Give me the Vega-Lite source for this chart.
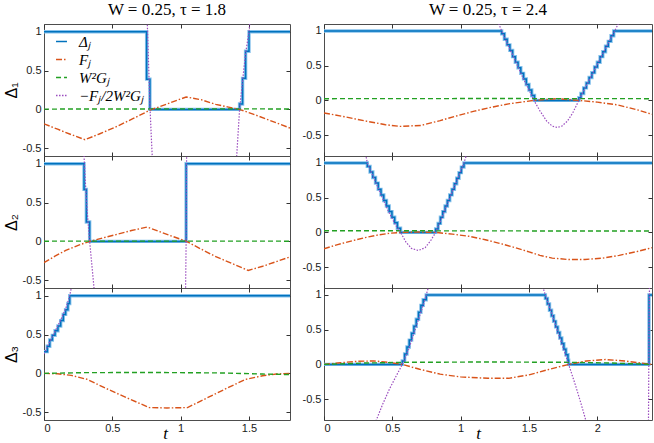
{
  "$schema": "https://vega.github.io/schema/vega-lite/v6.json",
  "padding": {"left": 2, "top": 0, "right": 0, "bottom": 0},
  "background": "white",
  "data": {
    "values": [
      {"p":"L1","s":"D","t":0,"v":1},{"p":"L1","s":"D","t":0.751,"v":0.39},{"p":"L1","s":"D","t":0.775,"v":0},{"p":"L1","s":"D","t":1.431,"v":0.07},{"p":"L1","s":"D","t":1.453,"v":0.4},{"p":"L1","s":"D","t":1.475,"v":0.75},{"p":"L1","s":"D","t":1.5,"v":1},{"p":"L1","s":"D","t":1.8,"v":1},
      {"p":"L1","s":"F","t":0,"v":-0.185},{"p":"L1","s":"F","t":0.1,"v":-0.255},{"p":"L1","s":"F","t":0.2,"v":-0.325},{"p":"L1","s":"F","t":0.3,"v":-0.39},{"p":"L1","s":"F","t":0.4,"v":-0.32},{"p":"L1","s":"F","t":0.52,"v":-0.23},{"p":"L1","s":"F","t":0.65,"v":-0.12},{"p":"L1","s":"F","t":0.775,"v":-0.01},{"p":"L1","s":"F","t":0.9,"v":0.07},{"p":"L1","s":"F","t":1.04,"v":0.16},{"p":"L1","s":"F","t":1.15,"v":0.125},{"p":"L1","s":"F","t":1.256,"v":0.065},{"p":"L1","s":"F","t":1.35,"v":0.03},{"p":"L1","s":"F","t":1.44,"v":-0.005},{"p":"L1","s":"F","t":1.53,"v":-0.06},{"p":"L1","s":"F","t":1.62,"v":-0.12},{"p":"L1","s":"F","t":1.71,"v":-0.18},{"p":"L1","s":"F","t":1.8,"v":-0.24},
      {"p":"L1","s":"G","t":0,"v":0.004},{"p":"L1","s":"G","t":0.6,"v":0.006},{"p":"L1","s":"G","t":1.2,"v":0.007},{"p":"L1","s":"G","t":1.8,"v":0.006},
      {"p":"L1","s":"P","g":1,"t":0.75,"v":1.4},{"p":"L1","s":"P","g":1,"t":0.756,"v":1.1},{"p":"L1","s":"P","g":1,"t":0.765,"v":0.6},{"p":"L1","s":"P","g":1,"t":0.775,"v":0.05},{"p":"L1","s":"P","g":1,"t":0.785,"v":-0.35},{"p":"L1","s":"P","g":1,"t":0.792,"v":-0.6},{"p":"L1","s":"P","g":1,"t":0.8,"v":-0.9},
      {"p":"L1","s":"P","g":2,"t":1.4,"v":-0.8},{"p":"L1","s":"P","g":2,"t":1.41,"v":-0.6},{"p":"L1","s":"P","g":2,"t":1.431,"v":0},{"p":"L1","s":"P","g":2,"t":1.455,"v":0.4},{"p":"L1","s":"P","g":2,"t":1.475,"v":0.72},{"p":"L1","s":"P","g":2,"t":1.5,"v":1.0},{"p":"L1","s":"P","g":2,"t":1.505,"v":1.1},{"p":"L1","s":"P","g":2,"t":1.51,"v":1.25},

      {"p":"L2","s":"D","t":0,"v":1},{"p":"L2","s":"D","t":0.293,"v":0.67},{"p":"L2","s":"D","t":0.31,"v":0.25},{"p":"L2","s":"D","t":0.334,"v":0},{"p":"L2","s":"D","t":1.04,"v":1},{"p":"L2","s":"D","t":1.8,"v":1},
      {"p":"L2","s":"F","t":0,"v":-0.274},{"p":"L2","s":"F","t":0.08,"v":-0.19},{"p":"L2","s":"F","t":0.159,"v":-0.116},{"p":"L2","s":"F","t":0.25,"v":-0.05},{"p":"L2","s":"F","t":0.334,"v":0},{"p":"L2","s":"F","t":0.43,"v":0.045},{"p":"L2","s":"F","t":0.524,"v":0.086},{"p":"L2","s":"F","t":0.64,"v":0.14},{"p":"L2","s":"F","t":0.756,"v":0.185},{"p":"L2","s":"F","t":0.9,"v":0.09},{"p":"L2","s":"F","t":1.044,"v":0},{"p":"L2","s":"F","t":1.15,"v":-0.1},{"p":"L2","s":"F","t":1.25,"v":-0.19},{"p":"L2","s":"F","t":1.37,"v":-0.28},{"p":"L2","s":"F","t":1.494,"v":-0.374},{"p":"L2","s":"F","t":1.6,"v":-0.32},{"p":"L2","s":"F","t":1.7,"v":-0.26},{"p":"L2","s":"F","t":1.8,"v":-0.2},
      {"p":"L2","s":"G","t":0,"v":0.003},{"p":"L2","s":"G","t":0.9,"v":0.004},{"p":"L2","s":"G","t":1.8,"v":0.003},
      {"p":"L2","s":"P","g":1,"t":0.288,"v":1.3},{"p":"L2","s":"P","g":1,"t":0.293,"v":1.1},{"p":"L2","s":"P","g":1,"t":0.3,"v":0.85},{"p":"L2","s":"P","g":1,"t":0.31,"v":0.55},{"p":"L2","s":"P","g":1,"t":0.322,"v":0.25},{"p":"L2","s":"P","g":1,"t":0.334,"v":0},{"p":"L2","s":"P","g":1,"t":0.35,"v":-0.3},{"p":"L2","s":"P","g":1,"t":0.366,"v":-0.6},{"p":"L2","s":"P","g":1,"t":0.372,"v":-0.75},
      {"p":"L2","s":"P","g":2,"t":1.035,"v":-0.75},{"p":"L2","s":"P","g":2,"t":1.04,"v":0},{"p":"L2","s":"P","g":2,"t":1.043,"v":1.0},{"p":"L2","s":"P","g":2,"t":1.045,"v":1.3},

      {"p":"L3","s":"D","t":0,"v":0.28},{"p":"L3","s":"D","t":0.024,"v":0.35},{"p":"L3","s":"D","t":0.042,"v":0.43},{"p":"L3","s":"D","t":0.061,"v":0.49},{"p":"L3","s":"D","t":0.081,"v":0.55},{"p":"L3","s":"D","t":0.102,"v":0.61},{"p":"L3","s":"D","t":0.122,"v":0.68},{"p":"L3","s":"D","t":0.141,"v":0.76},{"p":"L3","s":"D","t":0.158,"v":0.82},{"p":"L3","s":"D","t":0.175,"v":0.9},{"p":"L3","s":"D","t":0.188,"v":1},{"p":"L3","s":"D","t":1.8,"v":1},
      {"p":"L3","s":"F","t":0,"v":0},{"p":"L3","s":"F","t":0.1,"v":-0.005},{"p":"L3","s":"F","t":0.2,"v":-0.025},{"p":"L3","s":"F","t":0.317,"v":-0.077},{"p":"L3","s":"F","t":0.45,"v":-0.19},{"p":"L3","s":"F","t":0.6,"v":-0.31},{"p":"L3","s":"F","t":0.77,"v":-0.44},{"p":"L3","s":"F","t":0.9,"v":-0.445},{"p":"L3","s":"F","t":1.05,"v":-0.44},{"p":"L3","s":"F","t":1.2,"v":-0.31},{"p":"L3","s":"F","t":1.35,"v":-0.18},{"p":"L3","s":"F","t":1.475,"v":-0.077},{"p":"L3","s":"F","t":1.6,"v":-0.03},{"p":"L3","s":"F","t":1.7,"v":-0.008},{"p":"L3","s":"F","t":1.8,"v":0},
      {"p":"L3","s":"G","t":0,"v":0},{"p":"L3","s":"G","t":0.3,"v":0.01},{"p":"L3","s":"G","t":0.8,"v":0.012},{"p":"L3","s":"G","t":1.3,"v":0.006},{"p":"L3","s":"G","t":1.6,"v":-0.008},{"p":"L3","s":"G","t":1.8,"v":-0.015},
      {"p":"L3","s":"P","g":1,"t":0,"v":0.25},{"p":"L3","s":"P","g":1,"t":0.04,"v":0.4},{"p":"L3","s":"P","g":1,"t":0.08,"v":0.54},{"p":"L3","s":"P","g":1,"t":0.12,"v":0.68},{"p":"L3","s":"P","g":1,"t":0.16,"v":0.84},{"p":"L3","s":"P","g":1,"t":0.185,"v":0.98},{"p":"L3","s":"P","g":1,"t":0.2,"v":1.1},{"p":"L3","s":"P","g":1,"t":0.22,"v":1.25},

      {"p":"R1","s":"D","t":0,"v":1},{"p":"R1","s":"D","t":1.3,"v":0.96},{"p":"R1","s":"D","t":1.32,"v":0.88},{"p":"R1","s":"D","t":1.34,"v":0.8},{"p":"R1","s":"D","t":1.36,"v":0.72},{"p":"R1","s":"D","t":1.38,"v":0.63},{"p":"R1","s":"D","t":1.4,"v":0.55},{"p":"R1","s":"D","t":1.42,"v":0.47},{"p":"R1","s":"D","t":1.44,"v":0.39},{"p":"R1","s":"D","t":1.46,"v":0.31},{"p":"R1","s":"D","t":1.48,"v":0.23},{"p":"R1","s":"D","t":1.5,"v":0.15},{"p":"R1","s":"D","t":1.52,"v":0.07},{"p":"R1","s":"D","t":1.54,"v":0},{"p":"R1","s":"D","t":1.865,"v":0.04},{"p":"R1","s":"D","t":1.88,"v":0.1},{"p":"R1","s":"D","t":1.9,"v":0.18},{"p":"R1","s":"D","t":1.92,"v":0.25},{"p":"R1","s":"D","t":1.94,"v":0.33},{"p":"R1","s":"D","t":1.96,"v":0.4},{"p":"R1","s":"D","t":1.98,"v":0.48},{"p":"R1","s":"D","t":2.0,"v":0.55},{"p":"R1","s":"D","t":2.02,"v":0.63},{"p":"R1","s":"D","t":2.04,"v":0.7},{"p":"R1","s":"D","t":2.06,"v":0.78},{"p":"R1","s":"D","t":2.08,"v":0.85},{"p":"R1","s":"D","t":2.1,"v":0.93},{"p":"R1","s":"D","t":2.12,"v":1},{"p":"R1","s":"D","t":2.4,"v":1},
      {"p":"R1","s":"F","t":0,"v":-0.18},{"p":"R1","s":"F","t":0.15,"v":-0.235},{"p":"R1","s":"F","t":0.3,"v":-0.295},{"p":"R1","s":"F","t":0.45,"v":-0.35},{"p":"R1","s":"F","t":0.56,"v":-0.374},{"p":"R1","s":"F","t":0.71,"v":-0.36},{"p":"R1","s":"F","t":0.85,"v":-0.29},{"p":"R1","s":"F","t":0.975,"v":-0.22},{"p":"R1","s":"F","t":1.1,"v":-0.155},{"p":"R1","s":"F","t":1.22,"v":-0.1},{"p":"R1","s":"F","t":1.35,"v":-0.05},{"p":"R1","s":"F","t":1.46,"v":-0.02},{"p":"R1","s":"F","t":1.536,"v":0},{"p":"R1","s":"F","t":1.7,"v":0.025},{"p":"R1","s":"F","t":1.865,"v":0},{"p":"R1","s":"F","t":2.0,"v":-0.025},{"p":"R1","s":"F","t":2.15,"v":-0.065},{"p":"R1","s":"F","t":2.3,"v":-0.14},{"p":"R1","s":"F","t":2.4,"v":-0.2},
      {"p":"R1","s":"G","t":0,"v":0.025},{"p":"R1","s":"G","t":1.2,"v":0.027},{"p":"R1","s":"G","t":2.4,"v":0.025},
      {"p":"R1","s":"P","g":1,"t":1.27,"v":1.15},{"p":"R1","s":"P","g":1,"t":1.3,"v":1.0},{"p":"R1","s":"P","g":1,"t":1.35,"v":0.78},{"p":"R1","s":"P","g":1,"t":1.4,"v":0.57},{"p":"R1","s":"P","g":1,"t":1.45,"v":0.35},{"p":"R1","s":"P","g":1,"t":1.5,"v":0.15},{"p":"R1","s":"P","g":1,"t":1.536,"v":0},{"p":"R1","s":"P","g":1,"t":1.58,"v":-0.15},{"p":"R1","s":"P","g":1,"t":1.63,"v":-0.3},{"p":"R1","s":"P","g":1,"t":1.67,"v":-0.37},{"p":"R1","s":"P","g":1,"t":1.707,"v":-0.39},{"p":"R1","s":"P","g":1,"t":1.74,"v":-0.37},{"p":"R1","s":"P","g":1,"t":1.78,"v":-0.3},{"p":"R1","s":"P","g":1,"t":1.82,"v":-0.18},{"p":"R1","s":"P","g":1,"t":1.865,"v":0},{"p":"R1","s":"P","g":1,"t":1.9,"v":0.14},{"p":"R1","s":"P","g":1,"t":1.95,"v":0.33},{"p":"R1","s":"P","g":1,"t":2.0,"v":0.52},{"p":"R1","s":"P","g":1,"t":2.05,"v":0.71},{"p":"R1","s":"P","g":1,"t":2.1,"v":0.9},{"p":"R1","s":"P","g":1,"t":2.13,"v":1.01},{"p":"R1","s":"P","g":1,"t":2.16,"v":1.13},

      {"p":"R2","s":"D","t":0,"v":1},{"p":"R2","s":"D","t":0.317,"v":0.95},{"p":"R2","s":"D","t":0.337,"v":0.87},{"p":"R2","s":"D","t":0.357,"v":0.79},{"p":"R2","s":"D","t":0.377,"v":0.71},{"p":"R2","s":"D","t":0.397,"v":0.62},{"p":"R2","s":"D","t":0.417,"v":0.54},{"p":"R2","s":"D","t":0.437,"v":0.46},{"p":"R2","s":"D","t":0.457,"v":0.38},{"p":"R2","s":"D","t":0.477,"v":0.3},{"p":"R2","s":"D","t":0.497,"v":0.22},{"p":"R2","s":"D","t":0.517,"v":0.14},{"p":"R2","s":"D","t":0.537,"v":0.06},{"p":"R2","s":"D","t":0.56,"v":0},{"p":"R2","s":"D","t":0.817,"v":0.05},{"p":"R2","s":"D","t":0.835,"v":0.13},{"p":"R2","s":"D","t":0.852,"v":0.22},{"p":"R2","s":"D","t":0.869,"v":0.3},{"p":"R2","s":"D","t":0.886,"v":0.38},{"p":"R2","s":"D","t":0.903,"v":0.46},{"p":"R2","s":"D","t":0.92,"v":0.54},{"p":"R2","s":"D","t":0.937,"v":0.62},{"p":"R2","s":"D","t":0.954,"v":0.7},{"p":"R2","s":"D","t":0.971,"v":0.78},{"p":"R2","s":"D","t":0.988,"v":0.86},{"p":"R2","s":"D","t":1.005,"v":0.94},{"p":"R2","s":"D","t":1.024,"v":1},{"p":"R2","s":"D","t":2.4,"v":1},
      {"p":"R2","s":"F","t":0,"v":-0.235},{"p":"R2","s":"F","t":0.1,"v":-0.175},{"p":"R2","s":"F","t":0.207,"v":-0.12},{"p":"R2","s":"F","t":0.3,"v":-0.075},{"p":"R2","s":"F","t":0.4,"v":-0.035},{"p":"R2","s":"F","t":0.48,"v":-0.012},{"p":"R2","s":"F","t":0.56,"v":0},{"p":"R2","s":"F","t":0.69,"v":0.005},{"p":"R2","s":"F","t":0.817,"v":0},{"p":"R2","s":"F","t":0.94,"v":-0.025},{"p":"R2","s":"F","t":1.06,"v":-0.055},{"p":"R2","s":"F","t":1.18,"v":-0.105},{"p":"R2","s":"F","t":1.3,"v":-0.165},{"p":"R2","s":"F","t":1.4,"v":-0.22},{"p":"R2","s":"F","t":1.5,"v":-0.28},{"p":"R2","s":"F","t":1.58,"v":-0.33},{"p":"R2","s":"F","t":1.67,"v":-0.37},{"p":"R2","s":"F","t":1.79,"v":-0.39},{"p":"R2","s":"F","t":1.91,"v":-0.39},{"p":"R2","s":"F","t":2.04,"v":-0.37},{"p":"R2","s":"F","t":2.16,"v":-0.33},{"p":"R2","s":"F","t":2.28,"v":-0.28},{"p":"R2","s":"F","t":2.4,"v":-0.22},
      {"p":"R2","s":"G","t":0,"v":0.025},{"p":"R2","s":"G","t":1.2,"v":0.022},{"p":"R2","s":"G","t":2.4,"v":0.02},
      {"p":"R2","s":"P","g":1,"t":0.3,"v":1.17},{"p":"R2","s":"P","g":1,"t":0.317,"v":1.0},{"p":"R2","s":"P","g":1,"t":0.37,"v":0.76},{"p":"R2","s":"P","g":1,"t":0.42,"v":0.53},{"p":"R2","s":"P","g":1,"t":0.47,"v":0.31},{"p":"R2","s":"P","g":1,"t":0.52,"v":0.12},{"p":"R2","s":"P","g":1,"t":0.56,"v":0},{"p":"R2","s":"P","g":1,"t":0.6,"v":-0.14},{"p":"R2","s":"P","g":1,"t":0.64,"v":-0.23},{"p":"R2","s":"P","g":1,"t":0.69,"v":-0.26},{"p":"R2","s":"P","g":1,"t":0.74,"v":-0.22},{"p":"R2","s":"P","g":1,"t":0.78,"v":-0.12},{"p":"R2","s":"P","g":1,"t":0.817,"v":0},{"p":"R2","s":"P","g":1,"t":0.86,"v":0.2},{"p":"R2","s":"P","g":1,"t":0.9,"v":0.4},{"p":"R2","s":"P","g":1,"t":0.95,"v":0.64},{"p":"R2","s":"P","g":1,"t":1.0,"v":0.88},{"p":"R2","s":"P","g":1,"t":1.024,"v":1.0},{"p":"R2","s":"P","g":1,"t":1.04,"v":1.1},{"p":"R2","s":"P","g":1,"t":1.05,"v":1.17},

      {"p":"R3","s":"D","t":0,"v":0},{"p":"R3","s":"D","t":0.573,"v":0.05},{"p":"R3","s":"D","t":0.59,"v":0.15},{"p":"R3","s":"D","t":0.607,"v":0.25},{"p":"R3","s":"D","t":0.624,"v":0.35},{"p":"R3","s":"D","t":0.641,"v":0.45},{"p":"R3","s":"D","t":0.658,"v":0.55},{"p":"R3","s":"D","t":0.675,"v":0.65},{"p":"R3","s":"D","t":0.692,"v":0.75},{"p":"R3","s":"D","t":0.709,"v":0.85},{"p":"R3","s":"D","t":0.726,"v":0.93},{"p":"R3","s":"D","t":0.748,"v":1},{"p":"R3","s":"D","t":1.62,"v":0.95},{"p":"R3","s":"D","t":1.635,"v":0.87},{"p":"R3","s":"D","t":1.65,"v":0.78},{"p":"R3","s":"D","t":1.665,"v":0.7},{"p":"R3","s":"D","t":1.68,"v":0.62},{"p":"R3","s":"D","t":1.695,"v":0.54},{"p":"R3","s":"D","t":1.71,"v":0.46},{"p":"R3","s":"D","t":1.725,"v":0.38},{"p":"R3","s":"D","t":1.74,"v":0.3},{"p":"R3","s":"D","t":1.755,"v":0.22},{"p":"R3","s":"D","t":1.77,"v":0.14},{"p":"R3","s":"D","t":1.785,"v":0.06},{"p":"R3","s":"D","t":1.79,"v":0},{"p":"R3","s":"D","t":2.378,"v":1},{"p":"R3","s":"D","t":2.4,"v":1},
      {"p":"R3","s":"F","t":0,"v":0},{"p":"R3","s":"F","t":0.12,"v":0.025},{"p":"R3","s":"F","t":0.25,"v":0.045},{"p":"R3","s":"F","t":0.366,"v":0.05},{"p":"R3","s":"F","t":0.47,"v":0.03},{"p":"R3","s":"F","t":0.573,"v":0},{"p":"R3","s":"F","t":0.7,"v":-0.07},{"p":"R3","s":"F","t":0.85,"v":-0.14},{"p":"R3","s":"F","t":1.0,"v":-0.18},{"p":"R3","s":"F","t":1.2,"v":-0.2},{"p":"R3","s":"F","t":1.35,"v":-0.2},{"p":"R3","s":"F","t":1.5,"v":-0.15},{"p":"R3","s":"F","t":1.65,"v":-0.07},{"p":"R3","s":"F","t":1.79,"v":0},{"p":"R3","s":"F","t":1.92,"v":0.05},{"p":"R3","s":"F","t":2.06,"v":0.07},{"p":"R3","s":"F","t":2.2,"v":0.05},{"p":"R3","s":"F","t":2.3,"v":0.025},{"p":"R3","s":"F","t":2.4,"v":0},
      {"p":"R3","s":"G","t":0,"v":0},{"p":"R3","s":"G","t":0.3,"v":0.02},{"p":"R3","s":"G","t":0.6,"v":0.03},{"p":"R3","s":"G","t":1.2,"v":0.035},{"p":"R3","s":"G","t":1.8,"v":0.03},{"p":"R3","s":"G","t":2.1,"v":0.02},{"p":"R3","s":"G","t":2.4,"v":0},
      {"p":"R3","s":"P","g":1,"t":0.37,"v":-0.9},{"p":"R3","s":"P","g":1,"t":0.383,"v":-0.8},{"p":"R3","s":"P","g":1,"t":0.43,"v":-0.57},{"p":"R3","s":"P","g":1,"t":0.48,"v":-0.35},{"p":"R3","s":"P","g":1,"t":0.53,"v":-0.16},{"p":"R3","s":"P","g":1,"t":0.573,"v":0},{"p":"R3","s":"P","g":1,"t":0.62,"v":0.22},{"p":"R3","s":"P","g":1,"t":0.66,"v":0.46},{"p":"R3","s":"P","g":1,"t":0.7,"v":0.7},{"p":"R3","s":"P","g":1,"t":0.73,"v":0.88},{"p":"R3","s":"P","g":1,"t":0.748,"v":1.0},{"p":"R3","s":"P","g":1,"t":0.765,"v":1.12},
      {"p":"R3","s":"P","g":2,"t":1.6,"v":1.12},{"p":"R3","s":"P","g":2,"t":1.62,"v":1.0},{"p":"R3","s":"P","g":2,"t":1.66,"v":0.77},{"p":"R3","s":"P","g":2,"t":1.7,"v":0.53},{"p":"R3","s":"P","g":2,"t":1.74,"v":0.3},{"p":"R3","s":"P","g":2,"t":1.79,"v":0},{"p":"R3","s":"P","g":2,"t":1.84,"v":-0.3},{"p":"R3","s":"P","g":2,"t":1.88,"v":-0.56},{"p":"R3","s":"P","g":2,"t":1.915,"v":-0.8},{"p":"R3","s":"P","g":2,"t":1.93,"v":-0.9},
      {"p":"R3","s":"P","g":3,"t":2.374,"v":-0.9},{"p":"R3","s":"P","g":3,"t":2.378,"v":0.5},{"p":"R3","s":"P","g":3,"t":2.382,"v":1.2}
    ]
  },
  "columns": 2,
  "spacing": {"row": 0, "column": 34},
  "bounds": "flush",
  "align": "each",
  "resolve": {"scale": {"color": "independent", "strokeDash": "independent"}},
  "concat": [
    {
      "width": 246, "height": 132,
      "title": {"text": "W = 0.25, τ = 1.8"},
      "transform": [{"filter": "datum.p == 'L1'"}],
      "resolve": {"axis": {"x": "independent", "y": "independent"}},
      "layer": [
        {"transform": [{"filter": "datum.s == 'D'"}],
         "mark": {"type": "line", "interpolate": "step-after", "color": "#86c1ec", "strokeWidth": 3.4, "clip": true},
         "encoding": {
           "x": {"field": "t", "type": "quantitative", "scale": {"domain": [0, 1.8]}, "axis": {"orient": "bottom", "values": [0, 0.5, 1, 1.5], "labels": false, "title": null}},
           "y": {"field": "v", "type": "quantitative", "scale": {"domain": [-0.6, 1.1]}, "axis": {"orient": "left", "values": [-0.5, 0, 0.5, 1], "title": "Δ₁"}}}},
        {"transform": [{"filter": "datum.s == 'D'"}],
         "mark": {"type": "line", "interpolate": "step-after", "strokeWidth": 1.5, "clip": true},
         "encoding": {
           "x": {"field": "t", "type": "quantitative", "scale": {"domain": [0, 1.8]}, "axis": {"orient": "top", "values": [0, 0.5, 1, 1.5], "labels": false, "title": null}},
           "y": {"field": "v", "type": "quantitative", "scale": {"domain": [-0.6, 1.1]}, "axis": {"orient": "right", "values": [-0.5, 0, 0.5, 1], "labels": false, "title": null}},
           "color": {"field": "s", "type": "nominal", "scale": {"domain": ["D", "F", "G", "P"], "range": ["#0072BD", "#D95319", "#22a022", "#9b4dbf"]}, "legend": {"title": null, "labelExpr": "datum.label == 'D' ? 'Δⱼ' : datum.label == 'F' ? 'Fⱼ' : datum.label == 'G' ? 'W²Gⱼ' : '−Fⱼ/2W²Gⱼ'"}},
           "strokeDash": {"field": "s", "type": "nominal", "scale": {"domain": ["D", "F", "G", "P"], "range": [[1, 0], [6, 2, 1.5, 2], [5, 3], [1.5, 1.5]]}, "legend": {"title": null, "labelExpr": "datum.label == 'D' ? 'Δⱼ' : datum.label == 'F' ? 'Fⱼ' : datum.label == 'G' ? 'W²Gⱼ' : '−Fⱼ/2W²Gⱼ'"}}}},
        {"transform": [{"filter": "datum.s == 'F'"}],
         "mark": {"type": "line", "strokeWidth": 1.4, "clip": true},
         "encoding": {
           "x": {"field": "t", "type": "quantitative", "scale": {"domain": [0, 1.8]}, "axis": null},
           "y": {"field": "v", "type": "quantitative", "scale": {"domain": [-0.6, 1.1]}, "axis": null},
           "color": {"field": "s", "type": "nominal", "scale": {"domain": ["D", "F", "G", "P"], "range": ["#0072BD", "#D95319", "#22a022", "#9b4dbf"]}, "legend": {"title": null, "labelExpr": "datum.label == 'D' ? 'Δⱼ' : datum.label == 'F' ? 'Fⱼ' : datum.label == 'G' ? 'W²Gⱼ' : '−Fⱼ/2W²Gⱼ'"}},
           "strokeDash": {"field": "s", "type": "nominal", "scale": {"domain": ["D", "F", "G", "P"], "range": [[1, 0], [6, 2, 1.5, 2], [5, 3], [1.5, 1.5]]}, "legend": {"title": null, "labelExpr": "datum.label == 'D' ? 'Δⱼ' : datum.label == 'F' ? 'Fⱼ' : datum.label == 'G' ? 'W²Gⱼ' : '−Fⱼ/2W²Gⱼ'"}}}},
        {"transform": [{"filter": "datum.s == 'G'"}],
         "mark": {"type": "line", "strokeWidth": 1.4, "clip": true},
         "encoding": {
           "x": {"field": "t", "type": "quantitative", "scale": {"domain": [0, 1.8]}, "axis": null},
           "y": {"field": "v", "type": "quantitative", "scale": {"domain": [-0.6, 1.1]}, "axis": null},
           "color": {"field": "s", "type": "nominal", "scale": {"domain": ["D", "F", "G", "P"], "range": ["#0072BD", "#D95319", "#22a022", "#9b4dbf"]}, "legend": {"title": null, "labelExpr": "datum.label == 'D' ? 'Δⱼ' : datum.label == 'F' ? 'Fⱼ' : datum.label == 'G' ? 'W²Gⱼ' : '−Fⱼ/2W²Gⱼ'"}},
           "strokeDash": {"field": "s", "type": "nominal", "scale": {"domain": ["D", "F", "G", "P"], "range": [[1, 0], [6, 2, 1.5, 2], [5, 3], [1.5, 1.5]]}, "legend": {"title": null, "labelExpr": "datum.label == 'D' ? 'Δⱼ' : datum.label == 'F' ? 'Fⱼ' : datum.label == 'G' ? 'W²Gⱼ' : '−Fⱼ/2W²Gⱼ'"}}}},
        {"transform": [{"filter": "datum.s == 'P'"}],
         "mark": {"type": "line", "strokeWidth": 1.2, "clip": true},
         "encoding": {
           "x": {"field": "t", "type": "quantitative", "scale": {"domain": [0, 1.8]}, "axis": null},
           "y": {"field": "v", "type": "quantitative", "scale": {"domain": [-0.6, 1.1]}, "axis": null},
           "detail": {"field": "g"},
           "color": {"field": "s", "type": "nominal", "scale": {"domain": ["D", "F", "G", "P"], "range": ["#0072BD", "#D95319", "#22a022", "#9b4dbf"]}, "legend": {"title": null, "labelExpr": "datum.label == 'D' ? 'Δⱼ' : datum.label == 'F' ? 'Fⱼ' : datum.label == 'G' ? 'W²Gⱼ' : '−Fⱼ/2W²Gⱼ'"}},
           "strokeDash": {"field": "s", "type": "nominal", "scale": {"domain": ["D", "F", "G", "P"], "range": [[1, 0], [6, 2, 1.5, 2], [5, 3], [1.5, 1.5]]}, "legend": {"title": null, "labelExpr": "datum.label == 'D' ? 'Δⱼ' : datum.label == 'F' ? 'Fⱼ' : datum.label == 'G' ? 'W²Gⱼ' : '−Fⱼ/2W²Gⱼ'"}}}}
      ]
    },
    {
      "width": 328, "height": 132,
      "title": {"text": "W = 0.25, τ = 2.4"},
      "transform": [{"filter": "datum.p == 'R1'"}],
      "resolve": {"axis": {"x": "independent", "y": "independent"}},
      "layer": [
        {"transform": [{"filter": "datum.s == 'D'"}],
         "mark": {"type": "line", "interpolate": "step-after", "color": "#86c1ec", "strokeWidth": 3.4, "clip": true},
         "encoding": {
           "x": {"field": "t", "type": "quantitative", "scale": {"domain": [0, 2.4]}, "axis": {"orient": "bottom", "values": [0, 0.5, 1, 1.5, 2], "labels": false, "title": null}},
           "y": {"field": "v", "type": "quantitative", "scale": {"domain": [-0.8, 1.1]}, "axis": {"orient": "left", "values": [-0.5, 0, 0.5, 1], "title": null}}}},
        {"transform": [{"filter": "datum.s == 'D'"}],
         "mark": {"type": "line", "interpolate": "step-after", "strokeWidth": 1.5, "color": "#0072BD", "clip": true},
         "encoding": {
           "x": {"field": "t", "type": "quantitative", "scale": {"domain": [0, 2.4]}, "axis": {"orient": "top", "values": [0, 0.5, 1, 1.5, 2], "labels": false, "title": null}},
           "y": {"field": "v", "type": "quantitative", "scale": {"domain": [-0.8, 1.1]}, "axis": {"orient": "right", "values": [-0.5, 0, 0.5, 1], "labels": false, "title": null}}}},
        {"transform": [{"filter": "datum.s == 'F'"}],
         "mark": {"type": "line", "strokeWidth": 1.4, "color": "#D95319", "strokeDash": [6, 2, 1.5, 2], "clip": true},
         "encoding": {
           "x": {"field": "t", "type": "quantitative", "scale": {"domain": [0, 2.4]}, "axis": null},
           "y": {"field": "v", "type": "quantitative", "scale": {"domain": [-0.8, 1.1]}, "axis": null}}},
        {"transform": [{"filter": "datum.s == 'G'"}],
         "mark": {"type": "line", "strokeWidth": 1.4, "color": "#22a022", "strokeDash": [5, 3], "clip": true},
         "encoding": {
           "x": {"field": "t", "type": "quantitative", "scale": {"domain": [0, 2.4]}, "axis": null},
           "y": {"field": "v", "type": "quantitative", "scale": {"domain": [-0.8, 1.1]}, "axis": null}}},
        {"transform": [{"filter": "datum.s == 'P'"}],
         "mark": {"type": "line", "strokeWidth": 1.2, "color": "#9b4dbf", "strokeDash": [1.5, 1.5], "clip": true},
         "encoding": {
           "x": {"field": "t", "type": "quantitative", "scale": {"domain": [0, 2.4]}, "axis": null},
           "y": {"field": "v", "type": "quantitative", "scale": {"domain": [-0.8, 1.1]}, "axis": null},
           "detail": {"field": "g"}}}
      ]
    },
    {
      "width": 246, "height": 132,
      "transform": [{"filter": "datum.p == 'L2'"}],
      "resolve": {"axis": {"x": "independent", "y": "independent"}},
      "layer": [
        {"transform": [{"filter": "datum.s == 'D'"}],
         "mark": {"type": "line", "interpolate": "step-after", "color": "#86c1ec", "strokeWidth": 3.4, "clip": true},
         "encoding": {
           "x": {"field": "t", "type": "quantitative", "scale": {"domain": [0, 1.8]}, "axis": {"orient": "bottom", "values": [0, 0.5, 1, 1.5], "labels": false, "title": null}},
           "y": {"field": "v", "type": "quantitative", "scale": {"domain": [-0.6, 1.1]}, "axis": {"orient": "left", "values": [-0.5, 0, 0.5, 1], "title": "Δ₂"}}}},
        {"transform": [{"filter": "datum.s == 'D'"}],
         "mark": {"type": "line", "interpolate": "step-after", "strokeWidth": 1.5, "color": "#0072BD", "clip": true},
         "encoding": {
           "x": {"field": "t", "type": "quantitative", "scale": {"domain": [0, 1.8]}, "axis": {"orient": "top", "values": [0, 0.5, 1, 1.5], "labels": false, "title": null}},
           "y": {"field": "v", "type": "quantitative", "scale": {"domain": [-0.6, 1.1]}, "axis": {"orient": "right", "values": [-0.5, 0, 0.5, 1], "labels": false, "title": null}}}},
        {"transform": [{"filter": "datum.s == 'F'"}],
         "mark": {"type": "line", "strokeWidth": 1.4, "color": "#D95319", "strokeDash": [6, 2, 1.5, 2], "clip": true},
         "encoding": {
           "x": {"field": "t", "type": "quantitative", "scale": {"domain": [0, 1.8]}, "axis": null},
           "y": {"field": "v", "type": "quantitative", "scale": {"domain": [-0.6, 1.1]}, "axis": null}}},
        {"transform": [{"filter": "datum.s == 'G'"}],
         "mark": {"type": "line", "strokeWidth": 1.4, "color": "#22a022", "strokeDash": [5, 3], "clip": true},
         "encoding": {
           "x": {"field": "t", "type": "quantitative", "scale": {"domain": [0, 1.8]}, "axis": null},
           "y": {"field": "v", "type": "quantitative", "scale": {"domain": [-0.6, 1.1]}, "axis": null}}},
        {"transform": [{"filter": "datum.s == 'P'"}],
         "mark": {"type": "line", "strokeWidth": 1.2, "color": "#9b4dbf", "strokeDash": [1.5, 1.5], "clip": true},
         "encoding": {
           "x": {"field": "t", "type": "quantitative", "scale": {"domain": [0, 1.8]}, "axis": null},
           "y": {"field": "v", "type": "quantitative", "scale": {"domain": [-0.6, 1.1]}, "axis": null},
           "detail": {"field": "g"}}}
      ]
    },
    {
      "width": 328, "height": 132,
      "transform": [{"filter": "datum.p == 'R2'"}],
      "resolve": {"axis": {"x": "independent", "y": "independent"}},
      "layer": [
        {"transform": [{"filter": "datum.s == 'D'"}],
         "mark": {"type": "line", "interpolate": "step-after", "color": "#86c1ec", "strokeWidth": 3.4, "clip": true},
         "encoding": {
           "x": {"field": "t", "type": "quantitative", "scale": {"domain": [0, 2.4]}, "axis": {"orient": "bottom", "values": [0, 0.5, 1, 1.5, 2], "labels": false, "title": null}},
           "y": {"field": "v", "type": "quantitative", "scale": {"domain": [-0.8, 1.1]}, "axis": {"orient": "left", "values": [-0.5, 0, 0.5, 1], "title": null}}}},
        {"transform": [{"filter": "datum.s == 'D'"}],
         "mark": {"type": "line", "interpolate": "step-after", "strokeWidth": 1.5, "color": "#0072BD", "clip": true},
         "encoding": {
           "x": {"field": "t", "type": "quantitative", "scale": {"domain": [0, 2.4]}, "axis": {"orient": "top", "values": [0, 0.5, 1, 1.5, 2], "labels": false, "title": null}},
           "y": {"field": "v", "type": "quantitative", "scale": {"domain": [-0.8, 1.1]}, "axis": {"orient": "right", "values": [-0.5, 0, 0.5, 1], "labels": false, "title": null}}}},
        {"transform": [{"filter": "datum.s == 'F'"}],
         "mark": {"type": "line", "strokeWidth": 1.4, "color": "#D95319", "strokeDash": [6, 2, 1.5, 2], "clip": true},
         "encoding": {
           "x": {"field": "t", "type": "quantitative", "scale": {"domain": [0, 2.4]}, "axis": null},
           "y": {"field": "v", "type": "quantitative", "scale": {"domain": [-0.8, 1.1]}, "axis": null}}},
        {"transform": [{"filter": "datum.s == 'G'"}],
         "mark": {"type": "line", "strokeWidth": 1.4, "color": "#22a022", "strokeDash": [5, 3], "clip": true},
         "encoding": {
           "x": {"field": "t", "type": "quantitative", "scale": {"domain": [0, 2.4]}, "axis": null},
           "y": {"field": "v", "type": "quantitative", "scale": {"domain": [-0.8, 1.1]}, "axis": null}}},
        {"transform": [{"filter": "datum.s == 'P'"}],
         "mark": {"type": "line", "strokeWidth": 1.2, "color": "#9b4dbf", "strokeDash": [1.5, 1.5], "clip": true},
         "encoding": {
           "x": {"field": "t", "type": "quantitative", "scale": {"domain": [0, 2.4]}, "axis": null},
           "y": {"field": "v", "type": "quantitative", "scale": {"domain": [-0.8, 1.1]}, "axis": null},
           "detail": {"field": "g"}}}
      ]
    },
    {
      "width": 246, "height": 132,
      "transform": [{"filter": "datum.p == 'L3'"}],
      "resolve": {"axis": {"x": "independent", "y": "independent"}},
      "layer": [
        {"transform": [{"filter": "datum.s == 'D'"}],
         "mark": {"type": "line", "interpolate": "step-after", "color": "#86c1ec", "strokeWidth": 3.4, "clip": true},
         "encoding": {
           "x": {"field": "t", "type": "quantitative", "scale": {"domain": [0, 1.8]}, "axis": {"orient": "bottom", "values": [0, 0.5, 1, 1.5], "title": "t", "titleX": 121}},
           "y": {"field": "v", "type": "quantitative", "scale": {"domain": [-0.6, 1.1]}, "axis": {"orient": "left", "values": [-0.5, 0, 0.5, 1], "title": "Δ₃"}}}},
        {"transform": [{"filter": "datum.s == 'D'"}],
         "mark": {"type": "line", "interpolate": "step-after", "strokeWidth": 1.5, "color": "#0072BD", "clip": true},
         "encoding": {
           "x": {"field": "t", "type": "quantitative", "scale": {"domain": [0, 1.8]}, "axis": {"orient": "top", "values": [0, 0.5, 1, 1.5], "labels": false, "title": null}},
           "y": {"field": "v", "type": "quantitative", "scale": {"domain": [-0.6, 1.1]}, "axis": {"orient": "right", "values": [-0.5, 0, 0.5, 1], "labels": false, "title": null}}}},
        {"transform": [{"filter": "datum.s == 'F'"}],
         "mark": {"type": "line", "strokeWidth": 1.4, "color": "#D95319", "strokeDash": [6, 2, 1.5, 2], "clip": true},
         "encoding": {
           "x": {"field": "t", "type": "quantitative", "scale": {"domain": [0, 1.8]}, "axis": null},
           "y": {"field": "v", "type": "quantitative", "scale": {"domain": [-0.6, 1.1]}, "axis": null}}},
        {"transform": [{"filter": "datum.s == 'G'"}],
         "mark": {"type": "line", "strokeWidth": 1.4, "color": "#22a022", "strokeDash": [5, 3], "clip": true},
         "encoding": {
           "x": {"field": "t", "type": "quantitative", "scale": {"domain": [0, 1.8]}, "axis": null},
           "y": {"field": "v", "type": "quantitative", "scale": {"domain": [-0.6, 1.1]}, "axis": null}}},
        {"transform": [{"filter": "datum.s == 'P'"}],
         "mark": {"type": "line", "strokeWidth": 1.2, "color": "#9b4dbf", "strokeDash": [1.5, 1.5], "clip": true},
         "encoding": {
           "x": {"field": "t", "type": "quantitative", "scale": {"domain": [0, 1.8]}, "axis": null},
           "y": {"field": "v", "type": "quantitative", "scale": {"domain": [-0.6, 1.1]}, "axis": null},
           "detail": {"field": "g"}}}
      ]
    },
    {
      "width": 328, "height": 132,
      "transform": [{"filter": "datum.p == 'R3'"}],
      "resolve": {"axis": {"x": "independent", "y": "independent"}},
      "layer": [
        {"transform": [{"filter": "datum.s == 'D'"}],
         "mark": {"type": "line", "interpolate": "step-after", "color": "#86c1ec", "strokeWidth": 3.4, "clip": true},
         "encoding": {
           "x": {"field": "t", "type": "quantitative", "scale": {"domain": [0, 2.4]}, "axis": {"orient": "bottom", "values": [0, 0.5, 1, 1.5, 2], "title": "t", "titleX": 154}},
           "y": {"field": "v", "type": "quantitative", "scale": {"domain": [-0.8, 1.1]}, "axis": {"orient": "left", "values": [-0.5, 0, 0.5, 1], "title": null}}}},
        {"transform": [{"filter": "datum.s == 'D'"}],
         "mark": {"type": "line", "interpolate": "step-after", "strokeWidth": 1.5, "color": "#0072BD", "clip": true},
         "encoding": {
           "x": {"field": "t", "type": "quantitative", "scale": {"domain": [0, 2.4]}, "axis": {"orient": "top", "values": [0, 0.5, 1, 1.5, 2], "labels": false, "title": null}},
           "y": {"field": "v", "type": "quantitative", "scale": {"domain": [-0.8, 1.1]}, "axis": {"orient": "right", "values": [-0.5, 0, 0.5, 1], "labels": false, "title": null}}}},
        {"transform": [{"filter": "datum.s == 'F'"}],
         "mark": {"type": "line", "strokeWidth": 1.4, "color": "#D95319", "strokeDash": [6, 2, 1.5, 2], "clip": true},
         "encoding": {
           "x": {"field": "t", "type": "quantitative", "scale": {"domain": [0, 2.4]}, "axis": null},
           "y": {"field": "v", "type": "quantitative", "scale": {"domain": [-0.8, 1.1]}, "axis": null}}},
        {"transform": [{"filter": "datum.s == 'G'"}],
         "mark": {"type": "line", "strokeWidth": 1.4, "color": "#22a022", "strokeDash": [5, 3], "clip": true},
         "encoding": {
           "x": {"field": "t", "type": "quantitative", "scale": {"domain": [0, 2.4]}, "axis": null},
           "y": {"field": "v", "type": "quantitative", "scale": {"domain": [-0.8, 1.1]}, "axis": null}}},
        {"transform": [{"filter": "datum.s == 'P'"}],
         "mark": {"type": "line", "strokeWidth": 1.2, "color": "#9b4dbf", "strokeDash": [1.5, 1.5], "clip": true},
         "encoding": {
           "x": {"field": "t", "type": "quantitative", "scale": {"domain": [0, 2.4]}, "axis": null},
           "y": {"field": "v", "type": "quantitative", "scale": {"domain": [-0.8, 1.1]}, "axis": null},
           "detail": {"field": "g"}}}
      ]
    }
  ],
  "config": {
    "view": {"stroke": "#4d4d4d", "strokeWidth": 1},
    "axis": {
      "grid": false, "domain": false, "tickColor": "#333333", "tickSize": -4,
      "labelFont": "Liberation Sans", "labelFontSize": 11, "labelColor": "#1a1a1a",
      "labelExpr": "toString(datum.value)"
    },
    "axisLeft": {"labelPadding": 7, "titleFont": "Liberation Sans", "titleFontSize": 16, "titleFontWeight": "normal", "titleColor": "#000000", "titleX": -33, "titleBaseline": "middle"},
    "axisBottom": {"labelPadding": 6, "titleFont": "Liberation Serif", "titleFontStyle": "italic", "titleFontSize": 17, "titleFontWeight": "normal", "titleColor": "#000000", "titleY": 18, "titleBaseline": "alphabetic"},
    "title": {"font": "Liberation Serif", "fontSize": 17, "fontWeight": "normal", "color": "#000000", "offset": 5},
    "legend": {
      "orient": "top-left", "offset": 8, "padding": 2, "rowPadding": 2,
      "symbolType": "stroke", "symbolSize": 120, "symbolStrokeWidth": 1.5, "labelOffset": 10,
      "labelFont": "Liberation Serif", "labelFontStyle": "italic", "labelFontSize": 15, "labelColor": "#000000"
    }
  }
}
